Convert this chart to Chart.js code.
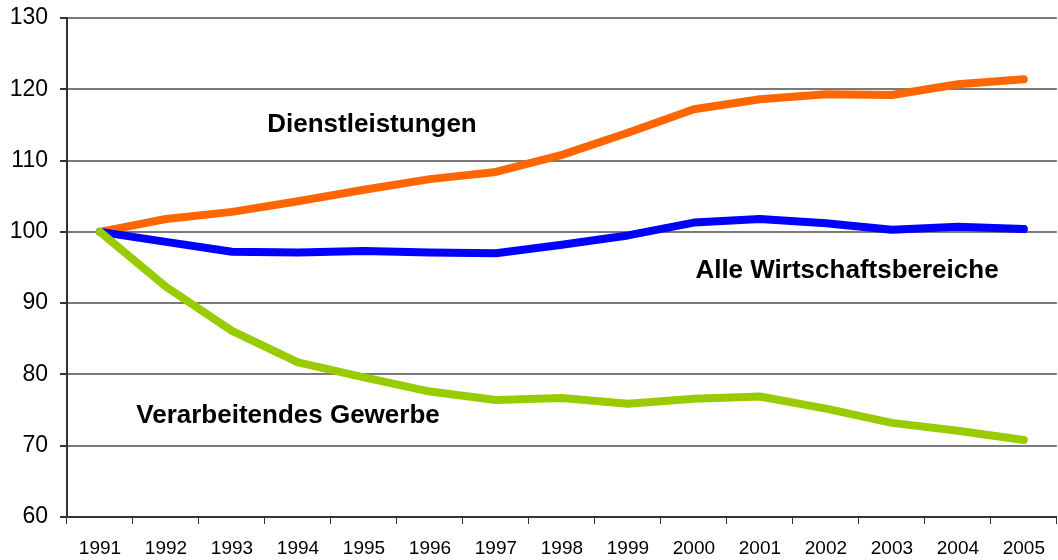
<!DOCTYPE html>
<html>
<head>
<meta charset="utf-8">
<script src="https://cdn.jsdelivr.net/npm/chart.js@4"></script>
<style>
html,body{margin:0;padding:0;background:#fff;}
#wrap{width:1058px;height:560px;}
</style>
</head>
<body>
<div id="wrap"><canvas id="c" width="1058" height="560"></canvas></div>
<script>
const years = ['1991','1992','1993','1994','1995','1996','1997','1998','1999','2000','2001','2002','2003','2004','2005'];
const dienstleistungen = [100, 101.8, 102.8, 104.3, 105.9, 107.4, 108.4, 110.8, 113.9, 117.2, 118.6, 119.3, 119.2, 120.7, 121.4];
const alleBereiche = [100, 98.6, 97.2, 97.1, 97.3, 97.1, 97.0, 98.2, 99.5, 101.3, 101.8, 101.2, 100.3, 100.7, 100.4];
const verarbeitendes = [100, 92.3, 86.1, 81.7, 79.6, 77.6, 76.4, 76.7, 75.9, 76.6, 76.9, 75.2, 73.2, 72.1, 70.8];
const yTicks = [60, 70, 80, 90, 100, 110, 120, 130];
const seriesLabels = ['Dienstleistungen', 'Alle Wirtschaftsbereiche', 'Verarbeitendes Gewerbe'];

const annotations = [
  {text: seriesLabels[0], x: 372, y: 125},
  {text: seriesLabels[1], x: 847, y: 271},
  {text: seriesLabels[2], x: 288, y: 416}
];

const labelPlugin = {
  id: 'seriesLabels',
  afterDatasetsDraw(chart) {
    const ctx = chart.ctx;
    ctx.save();
    ctx.font = 'bold 26px "Liberation Sans", Arial, sans-serif';
    ctx.fillStyle = '#000';
    ctx.textAlign = 'center';
    ctx.textBaseline = 'middle';
    annotations.forEach(a => ctx.fillText(a.text, a.x, a.y));
    ctx.restore();
  }
};

const common = {
  borderWidth: 8,
  pointRadius: 0,
  pointHoverRadius: 0,
  tension: 0,
  borderCapStyle: 'round',
  borderJoinStyle: 'round',
  fill: false
};

new Chart(document.getElementById('c'), {
  type: 'line',
  data: {
    labels: years,
    datasets: [
      Object.assign({label: seriesLabels[2], data: verarbeitendes, borderColor: '#99CC00'}, common),
      Object.assign({label: seriesLabels[1], data: alleBereiche, borderColor: '#0000FF'}, common),
      Object.assign({label: seriesLabels[0], data: dienstleistungen, borderColor: '#FF6600'}, common)
    ]
  },
  options: {
    responsive: false,
    animation: false,
    devicePixelRatio: 1,
    layout: {padding: {top: 0, right: 0, left: 0, bottom: 0}},
    plugins: {legend: {display: false}, tooltip: {enabled: false}},
    scales: {
      x: {
        type: 'category',
        offset: true,
        grid: {offset: true, drawOnChartArea: false, tickLength: 7, color: '#333', tickColor: '#333', lineWidth: 1},
        border: {color: '#333', width: 2},
        ticks: {color: '#000', font: {family: '"Liberation Sans", Arial, sans-serif', size: 19}, padding: 13, maxRotation: 0, autoSkip: false},
        afterFit(s) { s.height = 43; }
      },
      y: {
        min: 60, max: 130,
        afterBuildTicks(s) { s.ticks = yTicks.map(v => ({value: v})); },
        grid: {color: '#7a7a7a', tickColor: '#333', tickLength: 7, lineWidth: 2},
        border: {color: '#333', width: 2},
        ticks: {color: '#000', font: {family: '"Liberation Sans", Arial, sans-serif', size: 23, lineHeight: 1.2}, padding: 12},
        afterFit(s) { s.width = 67; s.paddingTop = 18; s.paddingBottom = 0; }
      }
    }
  },
  plugins: [labelPlugin]
});
</script>
</body>
</html>
